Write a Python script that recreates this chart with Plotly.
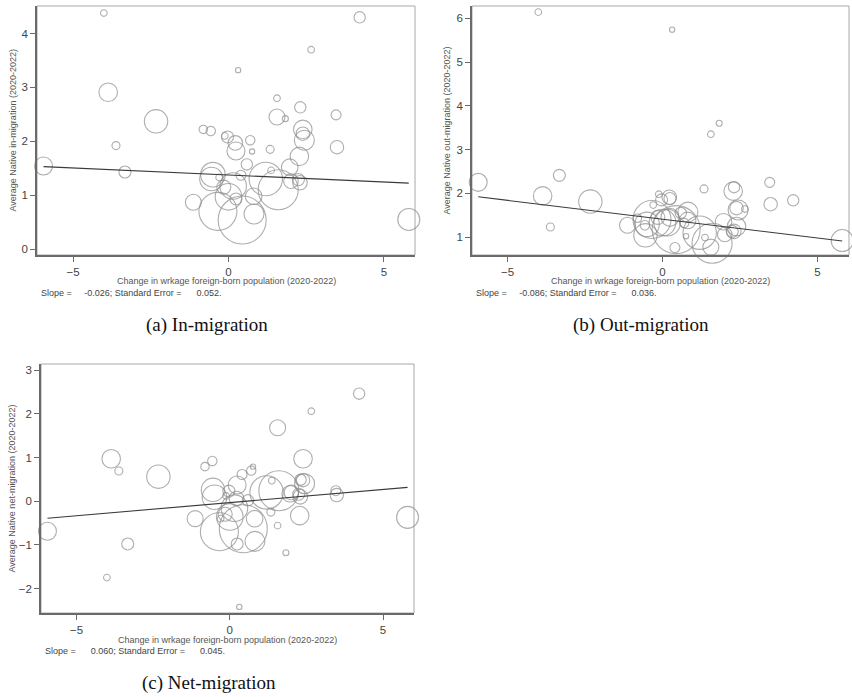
import plotly.graph_objects as go

W, H = 852, 697

# ---------------- data ----------------
x_change = [-4.01, 4.22, 2.66, 0.31, -3.87, 1.56, -2.33, 2.31, 3.46, 1.56,
            1.83, -0.81, -0.57, -0.03, -0.12, -3.62, 0.22, 0.24, 0.70, 0.76,
            1.34, 2.39, 2.39, 2.44, 3.49, 2.28, -5.95, -3.33, 0.59, -0.50,
            -0.55, -0.30, -0.15, 0.40, 1.20, 1.60, 1.37, 1.97, 2.01, 2.25,
            2.30, 0.15, 0.00, 0.24, 0.81, -1.13, -0.34, 0.44, 0.82, 5.80]
pop_weight = [11, 32, 11, 7, 86, 11, 137, 32, 25, 64,
              9, 18, 22, 36, 11, 16, 53, 81, 22, 7,
              16, 86, 45, 100, 45, 86, 81, 36, 32, 151,
              137, 11, 49, 25, 279, 400, 11, 69, 53, 36,
              53, 177, 177, 36, 69, 64, 361, 576, 100, 121]
in_mig = [4.38, 4.30, 3.70, 3.32, 2.91, 2.80, 2.37, 2.63, 2.49, 2.45,
          2.42, 2.22, 2.19, 2.08, 2.10, 1.92, 1.97, 1.82, 2.02, 1.81,
          1.85, 2.22, 2.14, 2.02, 1.89, 1.72, 1.54, 1.43, 1.57, 1.38,
          1.30, 1.33, 1.15, 1.37, 1.30, 1.10, 1.46, 1.52, 1.26, 1.29,
          1.23, 1.17, 0.97, 0.93, 0.98, 0.87, 0.70, 0.54, 0.65, 0.55]
out_mig = [6.14, 1.84, 1.64, 5.74, 1.94, 3.35, 1.81, 2.14, 2.25, 0.77,
           3.60, 1.43, 1.27, 1.85, 1.98, 1.23, 1.91, 1.45, 1.32, 1.02,
           2.10, 1.24, 1.66, 1.62, 1.75, 2.05, 2.25, 2.41, 1.55, 1.29,
           1.04, 1.73, 1.45, 0.76, 1.10, 0.86, 0.99, 1.35, 1.06, 1.13,
           1.13, 1.33, 1.33, 1.88, 1.38, 1.27, 1.40, 1.17, 1.57, 0.92]
net_mig = [-1.75, 2.46, 2.06, -2.42, 0.97, -0.56, 0.56, 0.49, 0.24, 1.68,
           -1.18, 0.79, 0.92, 0.23, 0.12, 0.69, 0.06, 0.37, 0.70, 0.79,
           -0.25, 0.97, 0.48, 0.40, 0.14, -0.33, -0.69, -0.98, 0.02, 0.09,
           0.26, -0.40, -0.30, 0.61, 0.20, 0.24, 0.47, 0.17, 0.20, 0.16,
           0.10, -0.16, -0.36, -0.98, -0.40, -0.40, -0.70, -0.63, -0.92, -0.37]

fit_slope = [-0.026, -0.086, 0.060]
fit_se = [0.052, 0.036, 0.045]
fit_intercept = [1.375, 1.408, -0.033]

y_titles = ["Average Native in-migration (2020-2022)",
            "Average Native out-migration (2020-2022)",
            "Average Native net-migration (2020-2022)"]
x_title = "Change in wrkage foreign-born population (2020-2022)"
captions = ["(a) In-migration", "(b) Out-migration", "(c) Net-migration"]
x_tick_vals = [-5, 0, 5]
y_tick_vals = [[0, 1, 2, 3, 4], [1, 2, 3, 4, 5, 6], [-2, -1, 0, 1, 2, 3]]

# ---------------- layout geometry (pixels) ----------------
boxes = [(37, 6, 415, 255), (472, 6, 849, 255), (41, 364, 414, 613)]
x_ranges = [[-6.16, 6.0], [-6.15, 6.02], [-6.16, 6.01]]
y_ranges = [[-0.11, 4.51], [0.59, 6.28], [-2.56, 3.14]]
ytitle_x = [12, 446, 12]
caption_pos = [(207, 325), (641, 325), (209, 683)]


def px(x):
    return x / W


def py(y):
    return 1 - y / H


series = [in_mig, out_mig, net_mig]
fig = go.Figure()
annotations = []
shapes = []
NB = "\u00a0"

for i in range(3):
    sfx = "" if i == 0 else str(i + 1)
    xa, ya = "x" + sfx, "y" + sfx
    l, t, r, b = boxes[i]

    fig.add_trace(go.Scatter(
        x=x_change, y=series[i], mode="markers", xaxis=xa, yaxis=ya,
        cliponaxis=False, showlegend=False, hoverinfo="skip",
        marker=dict(size=pop_weight, sizemode="area", sizeref=0.5,
                    color="rgba(0,0,0,0)",
                    line=dict(color="#8c8c8c", width=1.1)),
    ))
    xmin, xmax = min(x_change), max(x_change)
    fig.add_trace(go.Scatter(
        x=[xmin, xmax],
        y=[fit_intercept[i] + fit_slope[i] * xmin, fit_intercept[i] + fit_slope[i] * xmax],
        mode="lines", xaxis=xa, yaxis=ya, showlegend=False, hoverinfo="skip",
        line=dict(color="#3a3a3a", width=1.1),
    ))

    axis_common = dict(showline=True, linecolor="#6a6a6a", linewidth=1.5,
                       ticks="outside", ticklen=5, tickcolor="#6a6a6a", tickwidth=1,
                       showgrid=False, zeroline=False,
                       tickfont=dict(family="Liberation Sans, Arial", size=11.5, color="#444"))
    fig.update_layout(**{
        "xaxis" + sfx: dict(domain=[px(l), px(r)], range=x_ranges[i], anchor=ya,
                            tickvals=x_tick_vals, **axis_common),
        "yaxis" + sfx: dict(domain=[py(b), py(t)], range=y_ranges[i], anchor=xa,
                            tickvals=y_tick_vals[i], **axis_common),
    })

    shapes.append(dict(type="rect", xref="paper", yref="paper",
                       x0=px(l), x1=px(r), y0=py(b), y1=py(t),
                       line=dict(color="#a8a8a8", width=1), layer="below"))

    small = dict(family="Liberation Sans, Arial", size=9, color="#555")
    annotations.append(dict(text=y_titles[i], x=px(ytitle_x[i]), y=py((t + b) / 2),
                            xref="paper", yref="paper", textangle=-90,
                            showarrow=False, font=small, xanchor="center", yanchor="middle"))
    annotations.append(dict(text=x_title, x=px((l + r) / 2), y=py(b + 26.5),
                            xref="paper", yref="paper", showarrow=False, font=small,
                            xanchor="center", yanchor="middle"))
    s_txt = f"{fit_slope[i]:6.3f}".replace(" ", NB)
    e_txt = f"{fit_se[i]:.3f}"
    slope_text = "Slope =" + NB * 5 + s_txt + "; Standard Error =" + NB * 6 + e_txt + "."
    annotations.append(dict(text=slope_text, x=px(l + 2), y=py(b + 38),
                            xref="paper", yref="paper", showarrow=False,
                            font=dict(family="Liberation Sans, Arial", size=9, color="#444"),
                            xanchor="left", yanchor="middle"))
    cx, cy = caption_pos[i]
    annotations.append(dict(text=captions[i], x=px(cx), y=py(cy), xref="paper", yref="paper",
                            showarrow=False,
                            font=dict(family="Liberation Serif, serif", size=19, color="#111"),
                            xanchor="center", yanchor="middle"))

fig.update_layout(width=W, height=H, margin=dict(l=0, r=0, t=0, b=0),
                  paper_bgcolor="white", plot_bgcolor="white",
                  annotations=annotations, shapes=shapes)

fig.write_html("out.html")
